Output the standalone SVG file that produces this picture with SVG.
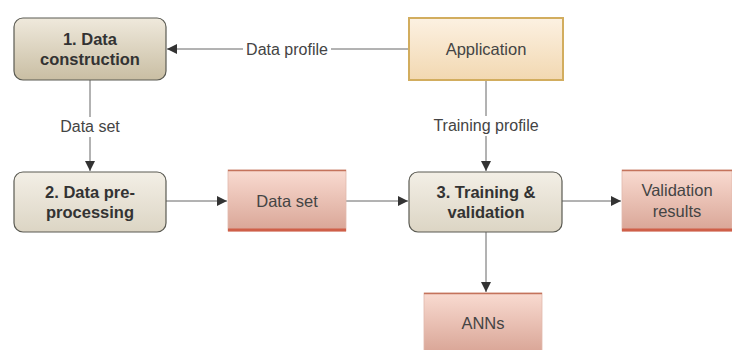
<svg xmlns="http://www.w3.org/2000/svg" width="732" height="350" viewBox="0 0 732 350">
<defs>
<linearGradient id="gProc1" x1="0" y1="0" x2="0" y2="1"><stop offset="0" stop-color="#efe9dc"/><stop offset="1" stop-color="#c9bea3"/></linearGradient>
<linearGradient id="gProc2" x1="0" y1="0" x2="0" y2="1"><stop offset="0" stop-color="#f3efe6"/><stop offset="1" stop-color="#dcd5c4"/></linearGradient>
<linearGradient id="gApp" x1="0" y1="0" x2="0" y2="1"><stop offset="0" stop-color="#fcf1e2"/><stop offset="1" stop-color="#f2d8b1"/></linearGradient>
<linearGradient id="gStore" x1="0" y1="0" x2="0" y2="1"><stop offset="0" stop-color="#f9dbd1"/><stop offset="1" stop-color="#d9a596"/></linearGradient>
<marker id="arr" viewBox="0 0 10 10" refX="10" refY="5" markerWidth="10" markerHeight="10" markerUnits="userSpaceOnUse" orient="auto"><path d="M0,0 L10,5 L0,10 z" fill="#333"/></marker>
</defs>
<style>
.proc{stroke:#5a5a52;stroke-width:1.2}
.app{fill:url(#gApp);stroke:#d2ad5e;stroke-width:2}
.store{fill:url(#gStore);stroke:#e0b8ac;stroke-width:0.8}
.topl{stroke:#c4735c;stroke-width:1.5}
.botl{stroke:#cf5f48;stroke-width:3}
.bt{font-family:"Liberation Sans",Arial,sans-serif;font-size:16.5px;font-weight:bold;fill:#333;text-anchor:middle}
.nt{font-family:"Liberation Sans",Arial,sans-serif;font-size:16.5px;fill:#444;text-anchor:middle}
.lbl{font-family:"Liberation Sans",Arial,sans-serif;font-size:16px;fill:#444;text-anchor:middle}
.c{stroke:#666;stroke-width:1;fill:none}
</style>
<rect width="732" height="350" fill="#ffffff"/>
<g id="connectors">
<line class="c" x1="408" y1="49" x2="167" y2="49" marker-end="url(#arr)"/>
<line class="c" x1="90" y1="80" x2="90" y2="171" marker-end="url(#arr)"/>
<line class="c" x1="486" y1="81" x2="486" y2="171" marker-end="url(#arr)"/>
<line class="c" x1="166" y1="201" x2="227" y2="201" marker-end="url(#arr)"/>
<line class="c" x1="346" y1="201" x2="408" y2="201" marker-end="url(#arr)"/>
<line class="c" x1="562" y1="201" x2="621" y2="201" marker-end="url(#arr)"/>
<line class="c" x1="486" y1="232" x2="486" y2="292" marker-end="url(#arr)"/>
<rect x="243" y="39" width="88" height="20" fill="#fff"/>
<text class="lbl" x="287" y="55">Data profile</text>
<rect x="58" y="117" width="64" height="20" fill="#fff"/>
<text class="lbl" x="90" y="132">Data set</text>
<rect x="429" y="116" width="114" height="20" fill="#fff"/>
<text class="lbl" x="486" y="131">Training profile</text>
</g>
<g id="n1">
<rect class="proc" x="14" y="18" width="152" height="62" rx="9" fill="url(#gProc1)"/>
<text class="bt" x="90" y="45">1. Data</text>
<text class="bt" x="90" y="65">construction</text>
</g>
<g id="n2">
<rect class="proc" x="14" y="172" width="152" height="60" rx="9" fill="url(#gProc2)"/>
<text class="bt" x="90" y="198">2. Data pre-</text>
<text class="bt" x="90" y="218">processing</text>
</g>
<g id="app">
<rect class="app" x="409" y="18" width="154" height="62"/>
<text class="nt" x="486" y="55">Application</text>
</g>
<g id="n3">
<rect class="proc" x="409" y="172" width="153" height="60" rx="9" fill="url(#gProc2)"/>
<text class="bt" x="486" y="198">3. Training &amp;</text>
<text class="bt" x="486" y="218">validation</text>
</g>
<g id="dataset">
<rect class="store" x="228" y="170" width="118" height="61"/>
<line class="topl" x1="228" y1="170.5" x2="346" y2="170.5"/>
<line class="botl" x1="228" y1="230" x2="346" y2="230"/>
<text class="nt" x="287" y="207">Data set</text>
</g>
<g id="valres">
<rect class="store" x="622" y="170" width="110" height="61"/>
<line class="topl" x1="622" y1="170.5" x2="732" y2="170.5"/>
<line class="botl" x1="622" y1="230" x2="732" y2="230"/>
<text class="nt" x="677" y="196">Validation</text>
<text class="nt" x="677" y="217">results</text>
</g>
<g id="anns">
<rect class="store" x="424" y="293" width="118" height="60"/>
<line class="topl" x1="424" y1="293.5" x2="542" y2="293.5"/>
<text class="nt" x="483" y="329">ANNs</text>
</g>
</svg>
